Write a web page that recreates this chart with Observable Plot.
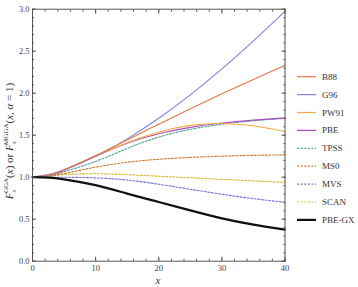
<!DOCTYPE html>
<html><head><meta charset="utf-8">
<script src="https://cdn.jsdelivr.net/npm/d3@7"></script>
<script src="https://cdn.jsdelivr.net/npm/@observablehq/plot@0.6"></script>
<style>body{margin:0;background:#fff} svg{display:block}</style>
</head><body><div id="chart"></div>
<script>
// reduced gradient x
const xs = [0, 2.5, 5, 10, 15, 20, 25, 30, 35, 40];
const B88  = [1, 1.026, 1.087, 1.257, 1.444, 1.631, 1.814, 1.992, 2.164, 2.333];
const G96  = [1, 1.031, 1.088, 1.248, 1.456, 1.701, 1.980, 2.289, 2.624, 2.975];
const PW91 = [1, 1.026, 1.087, 1.250, 1.411, 1.538, 1.617, 1.640, 1.612, 1.543];
const PBE  = [1, 1.022, 1.081, 1.249, 1.405, 1.517, 1.593, 1.645, 1.680, 1.706];
const TPSS = [1, 1.014, 1.066, 1.188, 1.343, 1.477, 1.570, 1.631, 1.672, 1.700];
const MS0  = [1, 1.012, 1.043, 1.120, 1.178, 1.214, 1.236, 1.250, 1.260, 1.266];
const MVS  = [1, 1.000, 0.9995, 0.992, 0.966, 0.916, 0.856, 0.797, 0.745, 0.701];
const SCAN = [1, 1.011, 1.031, 1.041, 1.030, 1.012, 0.993, 0.974, 0.956, 0.938];
const PBEGX= [1, 0.995, 0.975, 0.905, 0.805, 0.705, 0.605, 0.510, 0.435, 0.375];

const names  = ["B88", "G96", "PW91", "PBE", "TPSS", "MS0", "MVS", "SCAN", "PBE-GX"];
const series = [B88, G96, PW91, PBE, TPSS, MS0, MVS, SCAN, PBEGX];
const colors = ["#ea7345", "#8083dd", "#f2ab3c", "#b04cbf", "#4fa393", "#cc7a2c", "#7b6fd6", "#d6bb2e", "#111111"];
const dotted = [false, false, false, false, true, true, true, true, false];
const widths = [1.1, 1.1, 1.1, 1.1, 1.1, 1.1, 1.1, 1.1, 2.2];

const yTicks = [0, 0.5, 1, 1.5, 2, 2.5, 3];
const yMinor = d3.range(0, 3.001, 0.1);
const xTicks = [0, 10, 20, 30, 40];
const xMinor = d3.range(0, 40.001, 2);

const serif = "Liberation Serif, DejaVu Serif, serif";
const frameColor = "#555";

const lineMarks = series.map((vals, i) =>
  Plot.line(xs.map((x, j) => ({x, y: vals[j]})), {
    x: "x", y: "y", curve: "natural",
    stroke: colors[i], strokeWidth: widths[i],
    strokeDasharray: dotted[i] ? "2,1.6" : null
  })
);

const chart = Plot.plot({
  width: 358, height: 287,
  marginLeft: 32, marginRight: 73.5, marginTop: 8.7, marginBottom: 26.3,
  style: {fontFamily: serif, background: "#fff"},
  x: {domain: [0, 40], axis: null},
  y: {domain: [0, 3], axis: null},
  marks: [
    ...lineMarks.slice(0, 8).reverse(),
    lineMarks[8],
    Plot.frame({stroke: frameColor, strokeWidth: 1}),
    Plot.axisY({ticks: yMinor, anchor: "left", tickSize: -2, tickFormat: () => "", stroke: frameColor, label: null}),
    Plot.axisY({ticks: yMinor, anchor: "right", tickSize: -2, tickFormat: () => "", stroke: frameColor, label: null}),
    Plot.axisY({ticks: yTicks, anchor: "left", tickSize: -4, tickFormat: () => "", stroke: frameColor, label: null}),
    Plot.axisY({ticks: yTicks, anchor: "right", tickSize: -4, tickFormat: () => "", stroke: frameColor, label: null}),
    Plot.axisX({ticks: xMinor, anchor: "bottom", tickSize: -2, tickFormat: () => "", stroke: frameColor, label: null}),
    Plot.axisX({ticks: xMinor, anchor: "top", tickSize: -2, tickFormat: () => "", stroke: frameColor, label: null}),
    Plot.axisX({ticks: xTicks, anchor: "bottom", tickSize: -4, tickFormat: () => "", stroke: frameColor, label: null}),
    Plot.axisX({ticks: xTicks, anchor: "top", tickSize: -4, tickFormat: () => "", stroke: frameColor, label: null}),
    Plot.axisY({ticks: yTicks, anchor: "left", tickSize: 0, tickPadding: 3, tickFormat: d => d.toFixed(1), fontSize: 8.5, fill: "#444", label: null}),
    Plot.axisX({ticks: xTicks, anchor: "bottom", tickSize: 0, tickPadding: 4, tickFormat: d => String(d), fontSize: 8.5, fill: "#444", label: null})
  ]
});
document.getElementById("chart").appendChild(chart);

const svg = d3.select(chart);
// y-axis title
const yt = svg.append("text")
  .attr("transform", "translate(13,141) rotate(-90)")
  .attr("text-anchor", "middle")
  .attr("font-family", serif).attr("font-size", 11).attr("fill", "#333");
function part(t, o = {}) {
  const s = yt.append("tspan").text(t);
  if (o.it) s.attr("font-style", "italic");
  if (o.fs) s.attr("font-size", o.fs);
  if (o.dx != null) s.attr("dx", o.dx);
  if (o.dy != null) s.attr("dy", o.dy);
  return s;
}
part("F", {it: true});
part("x", {it: true, fs: 7, dy: 2.5});
part("GGA", {fs: 7, dx: -3.7, dy: -7.5});
part("(", {dy: 5});
part("x", {it: true});
part(") or ");
part("F", {it: true});
part("x", {it: true, fs: 7, dy: 2.5});
part("MGGA", {fs: 7, dx: -3.7, dy: -7.5});
part("(", {dy: 5});
part("x", {it: true});
part(", ");
part("α", {it: true});
part(" = 1)");

// x-axis title
svg.append("text").attr("x", 158).attr("y", 284).attr("text-anchor", "middle")
  .attr("font-family", serif).attr("font-style", "italic").attr("font-size", 11).attr("fill", "#333").text("x");

// legend
const lg = svg.append("g");
names.forEach((n, i) => {
  const y = 76.7 + i * 17.9;
  lg.append("line").attr("x1", 297).attr("x2", 316).attr("y1", y).attr("y2", y)
    .attr("stroke", colors[i]).attr("stroke-width", i === 8 ? 2.2 : 1.2)
    .attr("stroke-dasharray", dotted[i] ? "2,1.6" : null);
  lg.append("text").attr("x", 322).attr("y", y + 3).attr("text-anchor", "start")
    .attr("font-family", serif).attr("font-size", 9).attr("fill", "#333").text(n);
});
</script></body></html>
